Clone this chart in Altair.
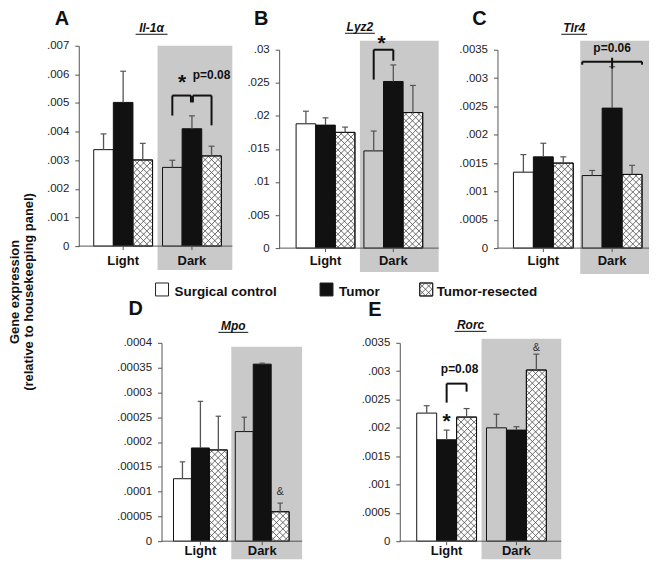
import math
import altair as alt
import pandas as pd

FONT = "Liberation Sans"
GRAY = "#c9c9c9"
INK = "#111111"
ERR = "#555555"
HATCH = "#4a4a4a"

groups = ["Light", "Dark"]
series = ["Surgical control", "Tumor", "Tumor-resected"]

# bar heights (Light x3, Dark x3) and tops of the error bars
il1a_mean = [0.00337, 0.00502, 0.00301, 0.00275, 0.00410, 0.00315]
il1a_top = [0.00392, 0.00611, 0.00359, 0.00300, 0.00455, 0.00349]
lyz2_mean = [0.0188, 0.0186, 0.0175, 0.0147, 0.0252, 0.0205]
lyz2_top = [0.0207, 0.0197, 0.0183, 0.0177, 0.0277, 0.0246]
tlr4_mean = [0.00134, 0.00161, 0.00150, 0.00128, 0.00247, 0.00130]
tlr4_top = [0.00165, 0.00185, 0.00161, 0.00137, 0.00320, 0.00146]
mpo_mean = [0.000126, 0.000188, 0.000184, 0.000221, 0.000357, 0.0000594]
mpo_top = [0.000160, 0.000282, 0.000252, 0.000250, 0.000359, 0.0000768]
rorc_mean = [0.00226, 0.00179, 0.00219, 0.00200, 0.00196, 0.00302]
rorc_top = [0.00239, 0.00196, 0.00234, 0.00224, 0.00202, 0.00330]

ticks_il1a = [0, 0.001, 0.002, 0.003, 0.004, 0.005, 0.006, 0.007]
ticks_lyz2 = [0, 0.005, 0.01, 0.015, 0.02, 0.025, 0.03]
ticks_tlr4 = [0, 0.0005, 0.001, 0.0015, 0.002, 0.0025, 0.003, 0.0035]
ticks_mpo = [0, 0.00005, 0.0001, 0.00015, 0.0002, 0.00025, 0.0003, 0.00035, 0.0004]
ticks_rorc = [0, 0.0005, 0.001, 0.0015, 0.002, 0.0025, 0.003, 0.0035]

# annotations: (group, position in bar units, value, ...)
ann_il1a = [
    ("bracket", 1, 0.5, 1.45, 0.00526, 0.00456, 0.00502),
    ("bracket", 1, 1.55, 2.5, 0.00526, 0.00502, 0.00422),
    ("star", 1, 1.0, 0.00589, "*"),
    ("ptext", 1, 2.5, 0.00596, "p=0.08"),
]
ann_lyz2 = [
    ("bracket", 1, 0.5, 1.5, 0.0300, 0.02548, 0.02834),
    ("star", 1, 0.9, 0.0318, "*"),
]
ann_tlr4 = [
    ("brace", 1, 0.0, 3.0, 0.003289, 0.003236, 0.003359, 0.003166),
    ("ptext", 1, 1.5, 0.003535, "p=0.06"),
]
ann_mpo = [
    ("amp", 1, 2.5, 0.0000985, "&"),
]
ann_rorc = [
    ("bracket", 0, 1.5, 2.5, 0.00278, 0.002445, 0.002638),
    ("star", 0, 1.5, 0.0022, "*"),
    ("ptext", 0, 2.15, 0.00304, "p=0.08"),
    ("amp", 1, 2.5, 0.00341, "&"),
]

# layout of each panel, in page pixels (grid of 3 columns: 232, 210, 200; rows 277, 275)
GEO_A = dict(origin=(8, 8), size=(232, 277), axis_x=78, axis_end=232, light_start=93, bw=19.67,
             dark_start=162, y_zero=246, y_top=45, gray=(157, 232, 45, 270),
             letter=("A", 61, 24), title=("Il-1α", 151, 31, 135, 167), label_base=265)
GEO_B = dict(origin=(240, 8), size=(210, 277), axis_x=279, axis_end=439, light_start=296, bw=19.67,
             dark_start=364, y_zero=248, y_top=49, gray=(360, 439, 40, 272),
             letter=("B", 261, 24), title=("Lyz2", 360, 30, 345, 375), label_base=265)
GEO_C = dict(origin=(450, 8), size=(200, 277), axis_x=498, axis_end=650, light_start=514, bw=20,
             dark_start=583, y_zero=248, y_top=49, gray=(581, 650, 40, 274),
             letter=("C", 480, 24), title=("Tlr4", 575, 31, 562, 588), label_base=265)
GEO_D = dict(origin=(8, 285), size=(232, 275), axis_x=161, axis_end=302, light_start=173, bw=18,
             dark_start=235, y_zero=542, y_top=343, gray=(231, 302, 347, 560),
             letter=("D", 135, 315), title=("Mpo", 233, 330, 218, 248), label_base=556)
GEO_E = dict(origin=(240, 285), size=(210, 275), axis_x=400, axis_end=562, light_start=417, bw=20,
             dark_start=487, y_zero=542, y_top=343, gray=(482, 562, 339, 560),
             letter=("E", 375, 316), title=("Rorc", 471, 329, 455, 487), label_base=556)

ONE = pd.DataFrame({"k": [0]})


def hatch(xl, xr, yt, yb, s=6.5):
    out = []
    k0, k1 = math.floor((xl + yt) / s), math.ceil((xr + yb) / s)
    for k in range(k0, k1 + 1):
        c = k * s
        xa, xb = max(xl, c - yb), min(xr, c - yt)
        if xb - xa > 0.4:
            out.append((xa, c - xa, xb, c - xb))
    k0, k1 = math.floor((yt - xr) / s), math.ceil((yb - xl) / s)
    for k in range(k0, k1 + 1):
        c = k * s
        xa, xb = max(xl, yt - c), min(xr, yb - c)
        if xb - xa > 0.4:
            out.append((xa, xa + c, xb, xb + c))
    return out


def panel(geo, mean, top, ticks, ann, extra=None):
    X0, Y0 = geo["origin"]
    W, H = geo["size"]
    bw, ls, ds = geo["bw"], geo["light_start"], geo["dark_start"]
    g = (ds - (ls + 3 * bw)) / bw
    span = 6 + g
    yz, yt = geo["y_zero"], geo["y_top"]
    ymax = ticks[-1]

    def xs_of(px):
        return (px - ls) / bw

    def v_of(py):
        return (yz - py) / (yz - yt) * ymax

    def px_of(xs):
        return ls + xs * bw

    def py_of(v):
        return yz - v / ymax * (yz - yt)

    def slot(gi, s):
        return gi * (3 + g) + s

    xsc = alt.Scale(domain=[0, span], range=[ls - X0, ls + span * bw - X0], nice=False, zero=False)
    ysc = alt.Scale(domain=[0, ymax], range=[yz - Y0, yt - Y0], nice=False, zero=False)
    yax = alt.Axis(values=ticks, title=None, grid=False, offset=-(geo["axis_x"] - X0),
                   labelExpr="datum.value == 0 ? '0' : substring(format(datum.value, '.5~f'), 1)",
                   labelFont=FONT, labelFontSize=11.5, labelColor="#222222", labelPadding=6,
                   labelFlush=False, labelOverlap=False, tickSize=4, tickColor="#555555",
                   domainColor="#555555", domainWidth=1)

    def X(f):
        return alt.X(f, type="quantitative", scale=xsc, axis=None)

    def Y(f):
        return alt.Y(f, type="quantitative", scale=ysc, axis=yax)

    rows = []
    for i in range(6):
        gi, si = i // 3, i % 3
        xs = slot(gi, si)
        rows.append(dict(group=groups[gi], series=series[si], xs=xs, xs2=xs + 1, xc=xs + 0.5,
                         cl=xs + 0.5 - 0.15, cr=xs + 0.5 + 0.15, mean=mean[i], top=top[i], zero=0.0))
    bars = pd.DataFrame(rows)
    hat = bars[bars["series"] == series[2]]

    segs = []
    for _, r in hat.iterrows():
        for (xa, ya, xb, yb) in hatch(px_of(r["xs"]), px_of(r["xs2"]), py_of(r["mean"]), yz):
            segs.append(dict(hx=xs_of(xa), hy=v_of(ya), hx2=xs_of(xb), hy2=v_of(yb)))
    hdf = pd.DataFrame(segs)

    gl, gr, gt, gb = geo["gray"]
    layers = []
    layers.append(alt.Chart(ONE).mark_rect(color=GRAY).encode(
        x=alt.value(gl - X0), x2=alt.value(gr - X0), y=alt.value(gt - Y0), y2=alt.value(gb - Y0)))
    layers.append(alt.Chart(bars).mark_bar(stroke=INK, strokeWidth=1).encode(
        x=X("xs"), x2=alt.X2("xs2"), y=Y("mean"), y2=alt.Y2("zero"),
        fill=alt.Fill("series:N", scale=alt.Scale(domain=series, range=["rgba(0,0,0,0)", INK, "#ffffff"]),
                      legend=None)))
    layers.append(alt.Chart(hdf).mark_rule(color=HATCH, strokeWidth=0.8).encode(
        x=X("hx"), x2=alt.X2("hx2"), y=Y("hy"), y2=alt.Y2("hy2")))
    layers.append(alt.Chart(hat).mark_bar(fillOpacity=0, stroke=INK, strokeWidth=1).encode(
        x=X("xs"), x2=alt.X2("xs2"), y=Y("mean"), y2=alt.Y2("zero")))
    layers.append(alt.Chart(bars).mark_rule(color=ERR, strokeWidth=1.3).encode(
        x=X("xc"), y=Y("mean"), y2=alt.Y2("top")))
    layers.append(alt.Chart(bars).mark_rule(color=ERR, strokeWidth=1.2).encode(
        x=X("cl"), x2=alt.X2("cr"), y=Y("top")))
    # x axis line, group ticks and group labels
    layers.append(alt.Chart(pd.DataFrame({"v": [0.0]})).mark_rule(color="#555555", strokeWidth=1).encode(
        x=alt.value(geo["axis_x"] - X0), x2=alt.value(geo["axis_end"] - X0), y=Y("v")))
    gdf = pd.DataFrame(dict(label=groups, xc=[slot(0, 1.5), slot(1, 1.5)], v0=[0.0, 0.0],
                            v1=[v_of(yz + 4), v_of(yz + 4)]))
    layers.append(alt.Chart(gdf).mark_rule(color="#555555", strokeWidth=1).encode(
        x=X("xc"), y=Y("v0"), y2=alt.Y2("v1")))
    layers.append(alt.Chart(gdf).mark_text(font=FONT, fontSize=13, fontWeight="bold", color="#111111",
                                           baseline="alphabetic", align="center").encode(
        x=X("xc"), y=alt.value(geo["label_base"] - Y0), text="label:N"))
    # letter and gene title
    lt, lx, lb = geo["letter"]
    layers.append(alt.Chart(ONE).mark_text(font=FONT, fontSize=20, fontWeight="bold", color="#111111",
                                           align="center", baseline="alphabetic").encode(
        x=alt.value(lx - X0), y=alt.value(lb - Y0), text=alt.value(lt)))
    tt, tx, tb, ul, ur = geo["title"]
    layers.append(alt.Chart(ONE).mark_text(font=FONT, fontSize=12, fontWeight="bold", fontStyle="italic",
                                           color="#111111", align="center", baseline="alphabetic").encode(
        x=alt.value(tx - X0), y=alt.value(tb - Y0), text=alt.value(tt)))
    layers.append(alt.Chart(ONE).mark_rule(color="#111111", strokeWidth=1).encode(
        x=alt.value(ul - X0), x2=alt.value(ur - X0), y=alt.value(tb + 2.5 - Y0)))

    # annotations
    segs = []
    texts = {"star": [], "ptext": [], "amp": []}
    for a in ann:
        if a[0] == "bracket":
            _, gi, s1, s2, vt, v1, v2 = a
            x1, x2 = slot(gi, s1), slot(gi, s2)
            segs += [dict(x=x1, x2=x2, y=vt, y2=vt), dict(x=x1, x2=x1, y=vt, y2=v1),
                     dict(x=x2, x2=x2, y=vt, y2=v2)]
        elif a[0] == "brace":
            _, gi, s1, s2, vl, vh, vu, vd = a
            x1, x2 = slot(gi, s1), slot(gi, s2)
            xm = (x1 + x2) / 2
            segs += [dict(x=x1, x2=x2, y=vl, y2=vl), dict(x=x1, x2=x1, y=vl, y2=vh),
                     dict(x=x2, x2=x2, y=vl, y2=vh), dict(x=xm, x2=xm, y=vu, y2=vd)]
        else:
            _, gi, s, v, t = a
            texts[a[0]].append(dict(x=slot(gi, s), v=v, t=t))
    if segs:
        layers.append(alt.Chart(pd.DataFrame(segs)).mark_rule(color="#111111", strokeWidth=2).encode(
            x=X("x"), x2=alt.X2("x2"), y=Y("y"), y2=alt.Y2("y2")))
    if texts["star"]:
        layers.append(alt.Chart(pd.DataFrame(texts["star"])).mark_text(
            font=FONT, fontSize=21, fontWeight="bold", color="#111111", align="center",
            baseline="alphabetic", dy=12).encode(x=X("x"), y=Y("v"), text="t:N"))
    if texts["ptext"]:
        layers.append(alt.Chart(pd.DataFrame(texts["ptext"])).mark_text(
            font=FONT, fontSize=12, fontWeight="bold", color="#111111", align="center",
            baseline="middle").encode(x=X("x"), y=Y("v"), text="t:N"))
    if texts["amp"]:
        layers.append(alt.Chart(pd.DataFrame(texts["amp"])).mark_text(
            font=FONT, fontSize=11, color="#333333", align="center",
            baseline="middle").encode(x=X("x"), y=Y("v"), text="t:N"))

    if extra is not None:
        layers += extra(X0, Y0, X, Y, xs_of, v_of)

    return alt.layer(*layers).properties(width=W, height=H)


# legend and shared y title (drawn within panel D)
legend_items = ["Surgical control", "Tumor", "Tumor-resected"]


def legend_layers(X0, Y0, X, Y, xs_of, v_of):
    out = []
    sq = [(155, 168), (320, 333), (420, 433)]
    tx = [174, 339, 437]
    top_, bot_ = 283, 296
    fills = ["#ffffff", INK, "#ffffff"]
    for (a, b), f in zip(sq, fills):
        out.append(alt.Chart(ONE).mark_rect(fill=f, stroke="#222222", strokeWidth=1).encode(
            x=alt.value(a - X0), x2=alt.value(b - X0), y=alt.value(top_ - Y0), y2=alt.value(bot_ - Y0)))
    segs = [dict(hx=xs_of(xa), hy=v_of(ya), hx2=xs_of(xb), hy2=v_of(yb))
            for (xa, ya, xb, yb) in hatch(sq[2][0], sq[2][1], top_, bot_, s=6.5)]
    out.append(alt.Chart(pd.DataFrame(segs)).mark_rule(color=HATCH, strokeWidth=0.8).encode(
        x=X("hx"), x2=alt.X2("hx2"), y=Y("hy"), y2=alt.Y2("hy2")))
    out.append(alt.Chart(ONE).mark_rect(fill="rgba(0,0,0,0)", stroke="#222222", strokeWidth=1).encode(
        x=alt.value(sq[2][0] - X0), x2=alt.value(sq[2][1] - X0), y=alt.value(top_ - Y0),
        y2=alt.value(bot_ - Y0)))
    for t, x in zip(legend_items, tx):
        out.append(alt.Chart(ONE).mark_text(font=FONT, fontSize=13.5, fontWeight="bold", color="#111111",
                                            align="left", baseline="alphabetic").encode(
            x=alt.value(x - X0), y=alt.value(296 - Y0), text=alt.value(t)))
    for t, x in [("Gene expression", 18), ("(relative to housekeeping panel)", 32)]:
        out.append(alt.Chart(ONE).mark_text(font=FONT, fontSize=13, fontWeight="bold", color="#111111",
                                            align="center", baseline="alphabetic", angle=270).encode(
            x=alt.value(x - X0), y=alt.value(292 - Y0), text=alt.value(t)))
    return out


pa = panel(GEO_A, il1a_mean, il1a_top, ticks_il1a, ann_il1a)
pb = panel(GEO_B, lyz2_mean, lyz2_top, ticks_lyz2, ann_lyz2)
pc = panel(GEO_C, tlr4_mean, tlr4_top, ticks_tlr4, ann_tlr4)
pd_ = panel(GEO_D, mpo_mean, mpo_top, ticks_mpo, ann_mpo, extra=legend_layers)
pe = panel(GEO_E, rorc_mean, rorc_top, ticks_rorc, ann_rorc)

chart = alt.concat(pa, pb, pc, pd_, pe, columns=3, spacing=0, bounds="flush", align="each").properties(
    padding=0).configure_view(stroke=None)

chart.save("out.html", embed_options={"renderer": "svg", "actions": False})
